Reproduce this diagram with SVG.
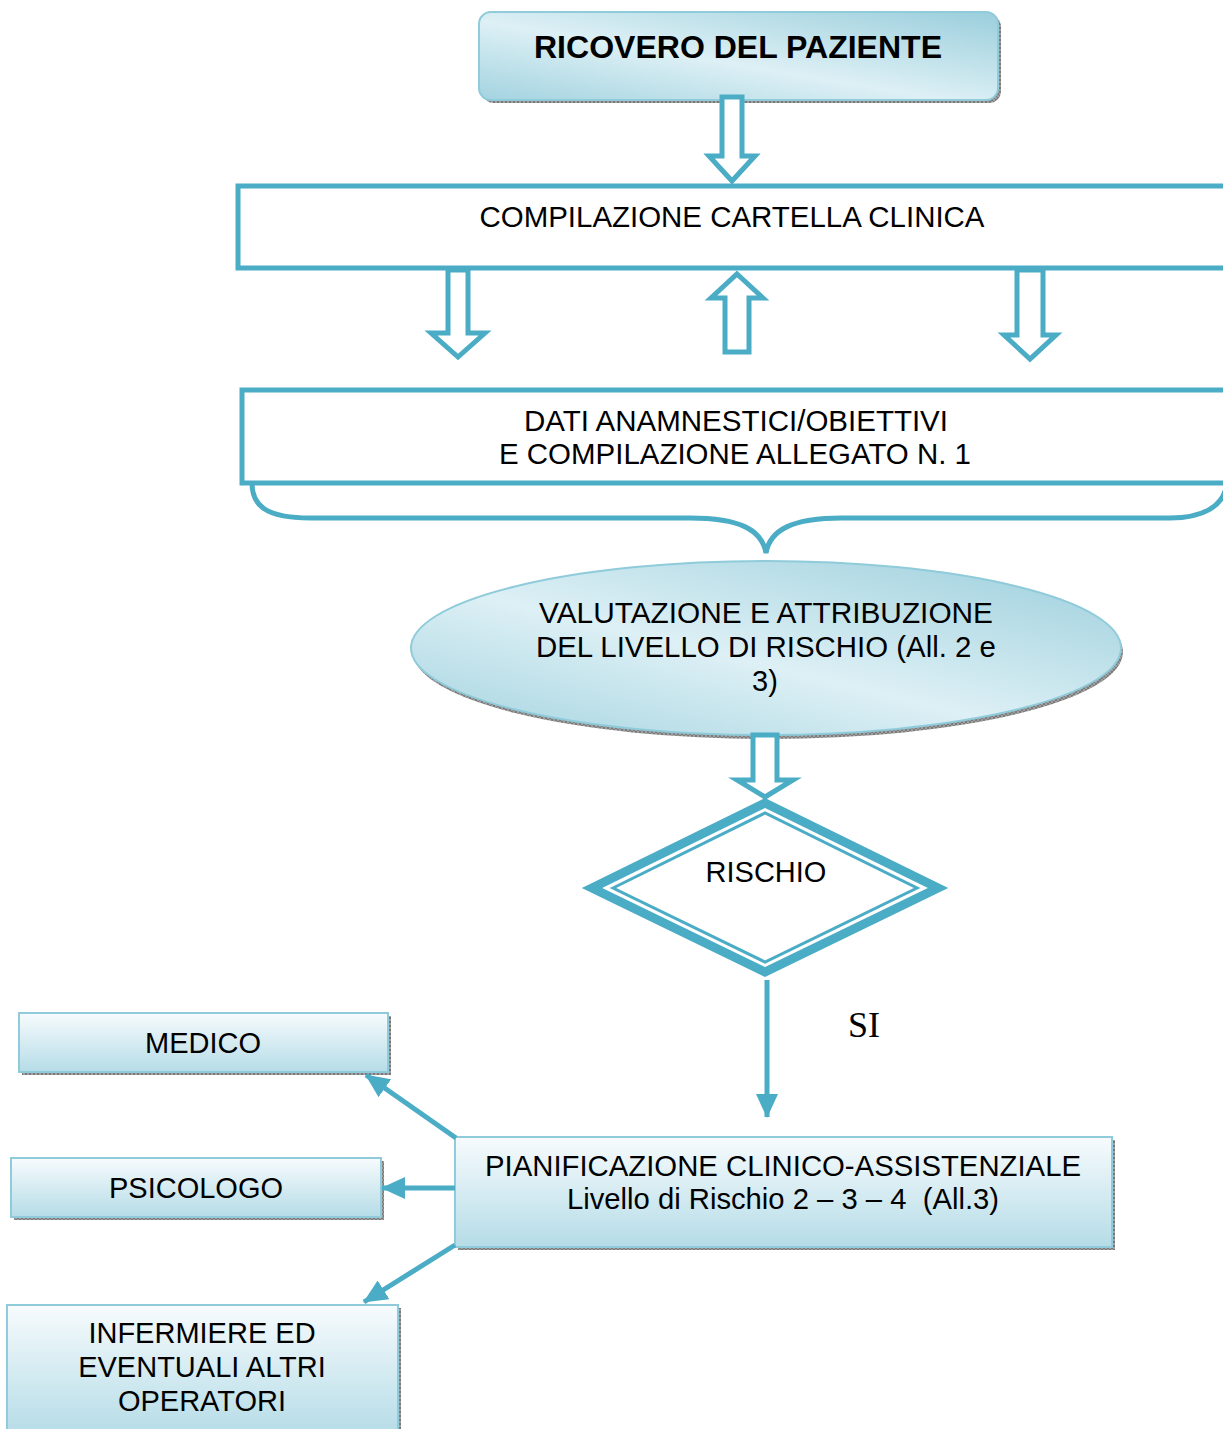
<svg xmlns="http://www.w3.org/2000/svg" width="1223" height="1429" viewBox="0 0 1223 1429">
<defs>
<style>
.t{font-family:"Liberation Sans",Arial,sans-serif;font-size:29px;fill:#000;text-anchor:middle}
.b{font-weight:bold;font-size:32px}
.si{font-family:"Liberation Serif","Times New Roman",serif;font-size:36px;fill:#000}
.frame{fill:#fff;stroke:#4BACC6;stroke-width:5}
.hollow{fill:#fff;stroke:#4BACC6;stroke-width:5;stroke-linejoin:miter}
.soft{stroke:#8FCBDA;stroke-width:2}
.shadow{fill:url(#hatch)}
.conn{stroke:#4BACC6;stroke-width:5;fill:none}
</style>
<pattern id="hatch" width="4" height="4" patternUnits="userSpaceOnUse">
<rect width="4" height="4" fill="#a0a0a0"/>
<path d="M0 0L4 4M0 4L4 0" stroke="#6e6e6e" stroke-width="0.8"/>
</pattern>
<linearGradient id="diag" x1="0" y1="1" x2="1" y2="0">
<stop offset="0" stop-color="#A3D3E0"/>
<stop offset="0.45" stop-color="#DDF0F5"/>
<stop offset="1" stop-color="#9ACEDC"/>
</linearGradient>
<linearGradient id="vert" x1="0" y1="0" x2="0" y2="1">
<stop offset="0" stop-color="#F7FBFD"/>
<stop offset="1" stop-color="#B5DCE7"/>
</linearGradient>
<marker id="ah" markerUnits="userSpaceOnUse" markerWidth="24" markerHeight="22" viewBox="0 0 24 22" refX="23" refY="11" orient="auto">
<path d="M0 0L24 11L0 22z" fill="#4BACC6"/>
</marker>
</defs>

<g id="ricovero">
<rect class="shadow" x="482" y="15" width="519" height="88" rx="12"/>
<rect x="479" y="12" width="519" height="88" rx="12" fill="url(#diag)" class="soft"/>
<text class="t b" x="738" y="58" textLength="408" lengthAdjust="spacingAndGlyphs">RICOVERO DEL PAZIENTE</text>
</g>

<g id="compilazione">
<rect class="frame" x="238" y="186" width="995" height="82"/>
<text class="t" x="732" y="227" textLength="505" lengthAdjust="spacingAndGlyphs">COMPILAZIONE CARTELLA CLINICA</text>
</g>

<g id="dati">
<rect class="frame" x="242" y="390" width="991" height="93"/>
<path class="conn" d="M252 483C252 505 265 518 310 518L690 518C740 518 762 530 766 553C770 530 792 518 842 518L1170 518C1205 518 1222 505 1226 488"/>
<text class="t" x="736" y="431" textLength="424" lengthAdjust="spacingAndGlyphs">DATI ANAMNESTICI/OBIETTIVI</text>
<text class="t" x="735" y="464" textLength="472" lengthAdjust="spacingAndGlyphs">E COMPILAZIONE ALLEGATO N. 1</text>
</g>

<g id="valutazione">
<ellipse class="shadow" cx="768" cy="652" rx="355" ry="87"/>
<ellipse cx="766" cy="648" rx="355" ry="87" fill="url(#diag)" class="soft"/>
<text class="t" x="766" y="623" textLength="454" lengthAdjust="spacingAndGlyphs">VALUTAZIONE E ATTRIBUZIONE</text>
<text class="t" x="766" y="657" textLength="460" lengthAdjust="spacingAndGlyphs">DEL LIVELLO DI RISCHIO (All. 2 e</text>
<text class="t" x="765" y="691">3)</text>
</g>

<g id="rischio">
<polygon points="592,888 765,803 938,888 765,972" fill="#fff" stroke="#4BACC6" stroke-width="9" stroke-linejoin="miter"/>
<polygon points="613,888 765,813 917,888 765,962" fill="none" stroke="#4BACC6" stroke-width="3" stroke-linejoin="miter"/>
<text class="t" x="766" y="882">RISCHIO</text>
</g>

<g id="pianificazione">
<rect class="shadow" x="458" y="1140" width="657" height="110"/>
<rect x="455" y="1137" width="657" height="110" fill="url(#vert)" class="soft"/>
<text class="t" x="783" y="1176" textLength="596" lengthAdjust="spacingAndGlyphs">PIANIFICAZIONE CLINICO-ASSISTENZIALE</text>
<text class="t" x="783" y="1209" xml:space="preserve" textLength="432" lengthAdjust="spacingAndGlyphs">Livello di Rischio 2 – 3 – 4  (All.3)</text>
</g>

<g id="medico">
<rect class="shadow" x="22" y="1016" width="369" height="59"/>
<rect x="19" y="1013" width="369" height="59" fill="url(#vert)" class="soft"/>
<text class="t" x="203" y="1053">MEDICO</text>
</g>

<g id="psicologo">
<rect class="shadow" x="14" y="1161" width="370" height="59"/>
<rect x="11" y="1158" width="370" height="59" fill="url(#vert)" class="soft"/>
<text class="t" x="196" y="1198">PSICOLOGO</text>
</g>

<g id="infermiere">
<rect class="shadow" x="10" y="1308" width="391" height="130"/>
<rect x="7" y="1305" width="391" height="130" fill="url(#vert)" class="soft"/>
<text class="t" x="202" y="1343">INFERMIERE ED</text>
<text class="t" x="202" y="1377">EVENTUALI ALTRI</text>
<text class="t" x="202" y="1411">OPERATORI</text>
</g>

<g id="connectors">
<polygon class="hollow" points="722,97 742,97 742,156 755,156 732,181 709,156 722,156"/>
<polygon class="hollow" points="448,270 468,270 468,333 485,333 458,357 431,333 448,333"/>
<polygon class="hollow" points="737,274 763,298 749,298 749,352 725,352 725,298 711,298"/>
<polygon class="hollow" points="1017,270 1043,270 1043,335 1056,335 1030,359 1004,335 1017,335"/>
<polygon class="hollow" points="753,735 777,735 777,780 793,780 765,797 737,780 753,780"/>
<line class="conn" x1="767" y1="980" x2="767" y2="1117" marker-end="url(#ah)"/>
<line class="conn" x1="456" y1="1138" x2="366" y2="1075" marker-end="url(#ah)"/>
<line class="conn" x1="455" y1="1188" x2="382" y2="1188" marker-end="url(#ah)"/>
<line class="conn" x1="455" y1="1245" x2="364" y2="1302" marker-end="url(#ah)"/>
<text class="si" x="848" y="1037">SI</text>
</g>
</svg>
